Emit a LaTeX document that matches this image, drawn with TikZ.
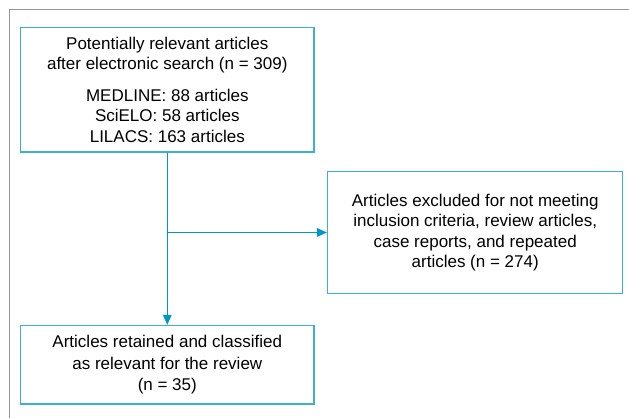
\documentclass[tikz,border=0pt]{standalone}
\usepackage{fontspec}
\setmainfont{Liberation Sans}
\usetikzlibrary{arrows.meta}
\definecolor{boxblue}{RGB}{60,175,215}
\definecolor{lineblue}{RGB}{0,150,200}
\definecolor{framegray}{RGB}{150,150,150}
\tikzset{
  flowbox/.style={draw=boxblue, line width=1.5pt, align=center, inner sep=0pt,
    font=\fontsize{17}{20.5}\selectfont},
  flowarrow/.style={draw=lineblue, line width=1.5pt, -{Triangle[length=10pt,width=8.5pt]}},
}
\begin{document}
\begin{tikzpicture}[x=1pt,y=1pt]
\useasboundingbox (0,0) rectangle (629,418);
\draw[framegray, line width=1.6pt] (9.5,0) -- (9.5,408.5) -- (629,408.5);
\node[flowbox, minimum width=293.3pt, minimum height=124.3pt] (search) at (167.3,328.2)
  {Potentially relevant articles\\after electronic search (n = 309)\\[11pt]
   MEDLINE: 88 articles\\SciELO: 58 articles\\LILACS: 163 articles};
\node[flowbox, minimum width=295pt, minimum height=121.6pt] (excluded) at (475.2,185.5)
  {Articles excluded for not meeting\\inclusion criteria, review articles,\\case reports, and repeated\\articles (n = 274)};
\node[flowbox, minimum width=293.3pt, minimum height=78.3pt,
  font=\fontsize{17}{21.5}\selectfont] (retained) at (167.3,53.2)
  {Articles retained and classified\\as relevant for the review\\(n = 35)};
\draw[flowarrow] (search.south) -- (retained.north);
\coordinate (branch) at (search.south |- excluded.west);
\draw[flowarrow] (branch) -- (excluded.west);
\end{tikzpicture}
\end{document}
